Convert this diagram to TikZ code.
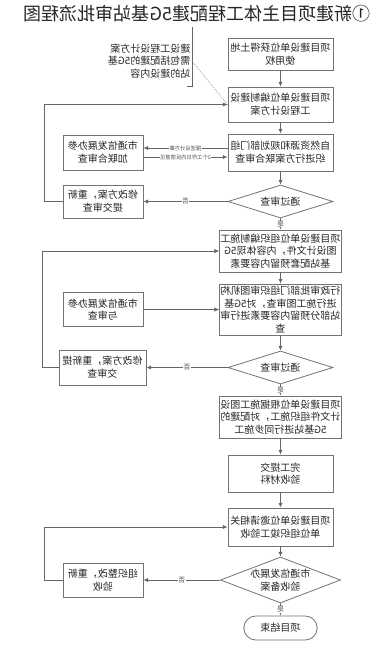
\documentclass[tikz,border=0pt]{standalone}
\usepackage{fontspec}
\setmainfont{Noto Sans CJK SC}
\usetikzlibrary{arrows.meta,shapes.geometric,shapes.misc}

\begin{document}
\begin{tikzpicture}[
  x=0.75pt, y=-0.75pt, xscale=-1,
  every node/.append style={transform shape},
  box/.style={draw=black!55,line width=0.6pt,fill=white,align=center,text=black!85,
              minimum width=78.75pt,inner sep=0.6pt,font=\fontsize{7.5}{9.5}\selectfont},
  wbox/.style={box,minimum width=90.75pt},
  sbox/.style={box,minimum width=60pt},
  dec/.style={box,diamond,aspect=2.6,inner sep=0pt,minimum height=24.75pt},
  term/.style={box,rounded rectangle,minimum width=56.25pt,minimum height=18pt},
  line/.style={draw=black!60,line width=0.6pt},
  arr/.style={line,-{Latex[length=3.6pt,width=3.2pt]}},
  tag/.style={fill=white,inner sep=0.4pt,text=black!70,font=\fontsize{5}{5}\selectfont},
  mini/.style={fill=white,inner sep=0.2pt,text=black!70,font=\fontsize{4}{4}\selectfont}
]
\useasboundingbox (0,0) rectangle (389,662);

% ---- title ----
\node[font=\fontsize{13.5}{14}\selectfont,text=black!85] (title) at (192,14) {①新建项目主体工程配建5G基站审批流程图};

% ---- design scheme stage ----
\node[box,minimum height=24pt] (land) at (108.5,54) {项目建设单位获得土地\\使用权};
\node[box,minimum height=26.25pt] (plan) at (108.5,104.5) {项目建设单位编制建设\\工程设计方案};
\node[box,minimum height=27.75pt] (joint) at (108.5,152.5) {自然资源和规划部门组\\织进行方案联合审查};
\node[sbox,minimum height=26.25pt] (telA) at (286,152.5) {市通信发展办参\\加联合审查};
\node[dec,minimum width=78.75pt] (passA) at (108.5,201.5) {通过审查};
\node[sbox,minimum height=24.75pt] (redoA) at (286,201.5) {修改方案，重新\\提交审查};

% note on the design scheme
\node[align=left,inner sep=1pt,minimum height=38.25pt,text=black!85,
      font=\fontsize{7.5}{9.5}\selectfont,anchor=west] (note) at (197,61) {建设工程设计方案\\需包括配建的5G基\\站的建设内容};
\draw[line] ([xshift=3.5pt]note.south west) -- (note.south west) -- ([yshift=6pt]note.north west);
\draw[line,densely dotted,draw=black!45] (note.west) -- (plan.east);

\draw[arr] (land) -- (plan);
\draw[arr] (plan) -- (joint);
\draw[arr] ([yshift=3.4pt]joint.east) -- node[mini]{报送设计方案} ([yshift=3.4pt]telA.west);
\draw[arr] ([yshift=-3.4pt]telA.west) -- node[mini]{2个工作日内反馈意见} ([yshift=-3.4pt]joint.east);
\draw[arr] (joint) -- (passA);
\draw[arr] (passA) -- node[tag]{否} (redoA);
\draw[arr] (redoA.east) -- ++(18,0) |- (plan.east);

% ---- construction drawing stage ----
\node[wbox,minimum height=31.5pt] (draw) at (108.5,251) {项目建设单位组织编制施工\\图设计文件，内容体现5G\\基站配套预留内容要素};
\node[wbox,minimum height=38.25pt] (check) at (108.5,309.5) {行政审批部门组织审图机构\\进行施工图审查，对5G基\\站部分预留内容要素进行审\\查};
\node[sbox,minimum height=25.5pt] (telB) at (286,309.5) {市通信发展办参\\与审查};
\node[dec,minimum width=78.75pt] (passB) at (108.5,367.5) {通过审查};
\node[sbox,minimum width=65.25pt,minimum height=26.25pt] (redoB) at (286.5,367.5) {修改方案，重新提\\交审查};

\draw[arr] (passA) -- node[tag]{是} (draw);
\draw[arr] (draw) -- (check);
\draw[arr,{Latex[length=3.6pt,width=3.2pt]}-] (check) -- (telB);
\draw[arr] (check) -- (passB);
\draw[arr] (passB) -- node[tag]{否} (redoB);
\draw[arr] (redoB.east) -- ++(16,0) |- (draw.east);

% ---- building and acceptance ----
\node[wbox,minimum height=31.5pt] (build) at (108.5,417) {项目建设单位根据施工图设\\计文件组织施工，对配建的\\5G基站进行同步施工};
\node[box,minimum height=27.75pt] (done) at (108.5,473.5) {完工提交\\验收材料};
\node[box,minimum height=28.5pt] (accept) at (108.5,527) {项目建设单位邀请相关\\单位组织竣工验收};
\node[dec,minimum width=90pt,minimum height=34.5pt] (passC) at (108.5,580) {市通信发展办\\验收备案};
\node[sbox,minimum height=25.5pt] (redoC) at (286,580) {组织整改，重新\\验收};
\node[term] (end) at (108.5,628) {项目结束};

\draw[arr] (passB) -- node[tag]{是} (build);
\draw[arr] (build) -- (done);
\draw[arr] (done) -- (accept);
\draw[arr] (accept) -- (passC);
\draw[arr] (passC) -- node[tag]{否} (redoC);
\draw[arr] (redoC.east) -- ++(18,0) |- (accept.east);
\draw[arr] (passC) -- node[tag]{是} (end);

\end{tikzpicture}
\end{document}
